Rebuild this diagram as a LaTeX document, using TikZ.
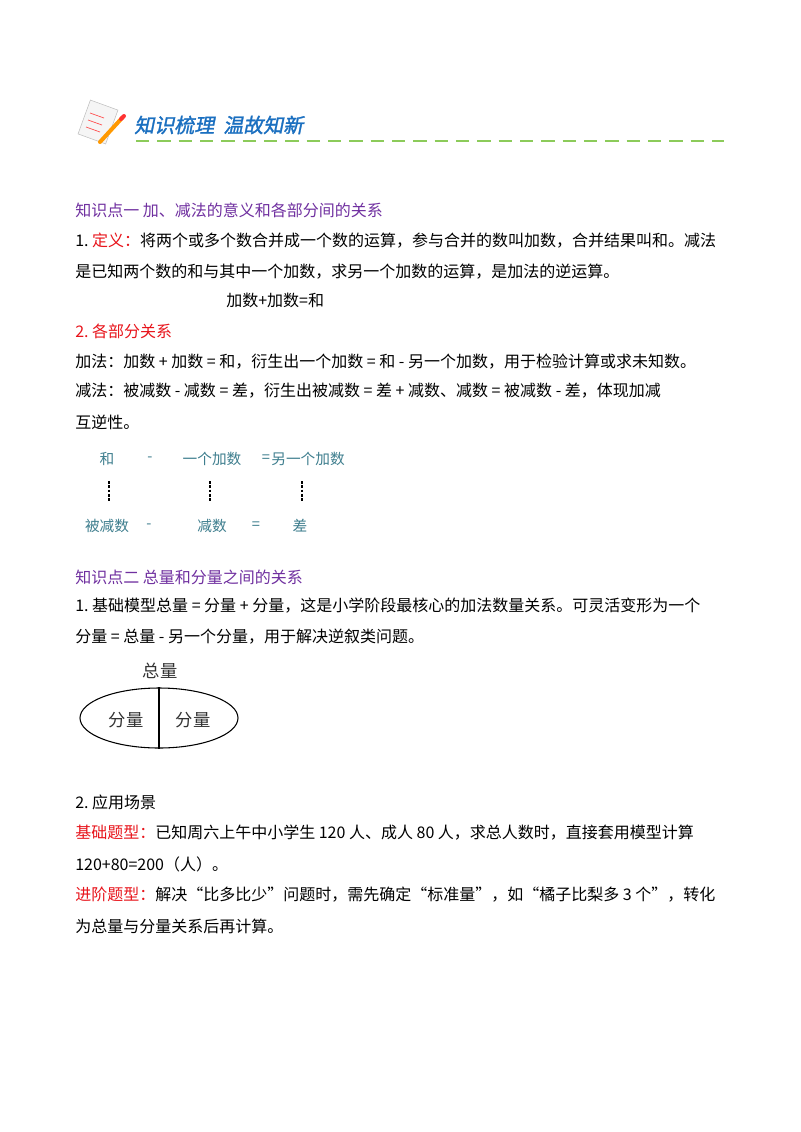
\documentclass[tikz,border=0pt]{standalone}
\usepackage{fontspec}
\usetikzlibrary{shapes.geometric}
\setmainfont{Liberation Sans}
\newfontfamily\cjk{Noto Sans CJK SC}
\newfontfamily\cjkslant[FakeSlant=0.2,FakeBold=1.5]{Noto Sans CJK SC}
\definecolor{purp}{HTML}{7030A0}
\definecolor{redc}{HTML}{E8141B}
\definecolor{teal}{HTML}{3E7E8E}
\definecolor{hblue}{HTML}{1A6FC0}
\definecolor{lgreen}{HTML}{8CCB5A}
\begin{document}
\begin{tikzpicture}[x=0.75pt,y=-0.75pt,
  txt/.style={anchor=west,inner sep=0pt,font=\cjk\fontsize{12}{14}\selectfont},
  dia/.style={inner sep=0pt,font=\cjk\fontsize{11}{13}\selectfont,text=teal},
  bar/.style={line width=2pt,dash pattern=on 2.2pt off 1pt}]
\useasboundingbox[fill=white] (0,0) rectangle (800,1132);
% header
\node[fill=gray!8,draw=gray!50,rotate=-20,minimum width=22pt,minimum height=27pt,inner sep=0pt] (paper) at (98,122) {};
\draw[red!70,line width=0.5pt] (90,113) -- (104,118) (88,120) -- (102,125) (86,127) -- (100,132);
\draw[line width=3pt,orange!80!yellow,line cap=round] (122,118) -- (100,142);
\draw[red!80,line width=3pt,line cap=round] (124,116) -- (121,119);
\node[anchor=west,inner sep=0pt,text=hblue,font=\cjkslant\fontsize{15}{17}\selectfont] (title) at (134,125) {知识梳理\ \ 温故知新};
\coordinate (l1) at (136,141); \coordinate (l2) at (724,141);
\draw[lgreen,line width=2pt,dash pattern=on 10pt off 6pt] (l1) -- (l2);
% section 1
\node[txt,text=purp] (k1) at (75,210) {知识点一\ 加、减法的意义和各部分间的关系};
\node[txt] (p1) at (75,241) {1.\ \textcolor{redc}{定义：}将两个或多个数合并成一个数的运算，参与合并的数叫加数，合并结果叫和。减法};
\node[txt] (p2) at (75,272) {是已知两个数的和与其中一个加数，求另一个加数的运算，是加法的逆运算。};
\node[txt] (p3) at (226,300) {加数+加数=和};
\node[txt,text=redc] (p4) at (75,331) {2.\ 各部分关系};
\node[txt] (p5) at (75,362) {加法：加数\ +\ 加数\ =\ 和，衍生出一个加数\ =\ 和\ -\ 另一个加数，用于检验计算或求未知数。};
\node[txt] (p6) at (75,391) {减法：被减数\ -\ 减数\ =\ 差，衍生出被减数\ =\ 差\ +\ 减数、减数\ =\ 被减数\ -\ 差，体现加减};
\node[txt] (p7) at (75,422) {互逆性。};
% diagram 1
\node[dia] (d1) at (107,459) {和};
\node[dia] (d2) at (150,459) {-};
\node[dia] (d3) at (212,459) {一个加数};
\node[dia] (d4) at (266,459) {=};
\node[dia] (d5) at (308,459) {另一个加数};
\node[dia] (e1) at (107,526) {被减数};
\node[dia] (e2) at (149,526) {-};
\node[dia] (e3) at (212,526) {减数};
\node[dia] (e4) at (256,526) {=};
\node[dia] (e5) at (300,526) {差};
\draw[bar] (109,481) -- (109,502);
\draw[bar] (210,481) -- (210,502);
\draw[bar] (302,481) -- (302,502);
% section 2
\node[txt,text=purp] (k2) at (75,577) {知识点二\ 总量和分量之间的关系};
\node[txt] (q1) at (75,606) {1.\ 基础模型总量\ =\ 分量\ +\ 分量，这是小学阶段最核心的加法数量关系。可灵活变形为一个};
\node[txt] (q2) at (75,637) {分量\ =\ 总量\ -\ 另一个分量，用于解决逆叙类问题。};
\node[inner sep=0pt,font=\cjk\fontsize{13}{15}\selectfont,text=black!80] (zl) at (160,671) {总量};
\node[draw,ellipse,minimum width=118.5pt,minimum height=45pt,inner sep=0pt,line width=0.8pt] (ell) at (159,718) {};
\draw[line width=0.8pt] (ell.north) -- (ell.south);
\node[inner sep=0pt,font=\cjk\fontsize{13}{15}\selectfont,text=black!80] (f1) at (126,720) {分量};
\node[inner sep=0pt,font=\cjk\fontsize{13}{15}\selectfont,text=black!80] (f2) at (193,720) {分量};
\node[txt] (r1) at (75,802) {2.\ 应用场景};
\node[txt] (r2) at (75,833) {\textcolor{redc}{基础题型：}已知周六上午中小学生\ 120\ 人、成人\ 80\ 人，求总人数时，直接套用模型计算};
\node[txt] (r3) at (75,864) {120+80=200（人）。};
\node[txt] (r4) at (75,895) {\textcolor{redc}{进阶题型：}解决“比多比少”问题时，需先确定“标准量”，如“橘子比梨多\ 3\ 个”，转化};
\node[txt] (r5) at (75,926) {为总量与分量关系后再计算。};
\end{tikzpicture}
\end{document}
